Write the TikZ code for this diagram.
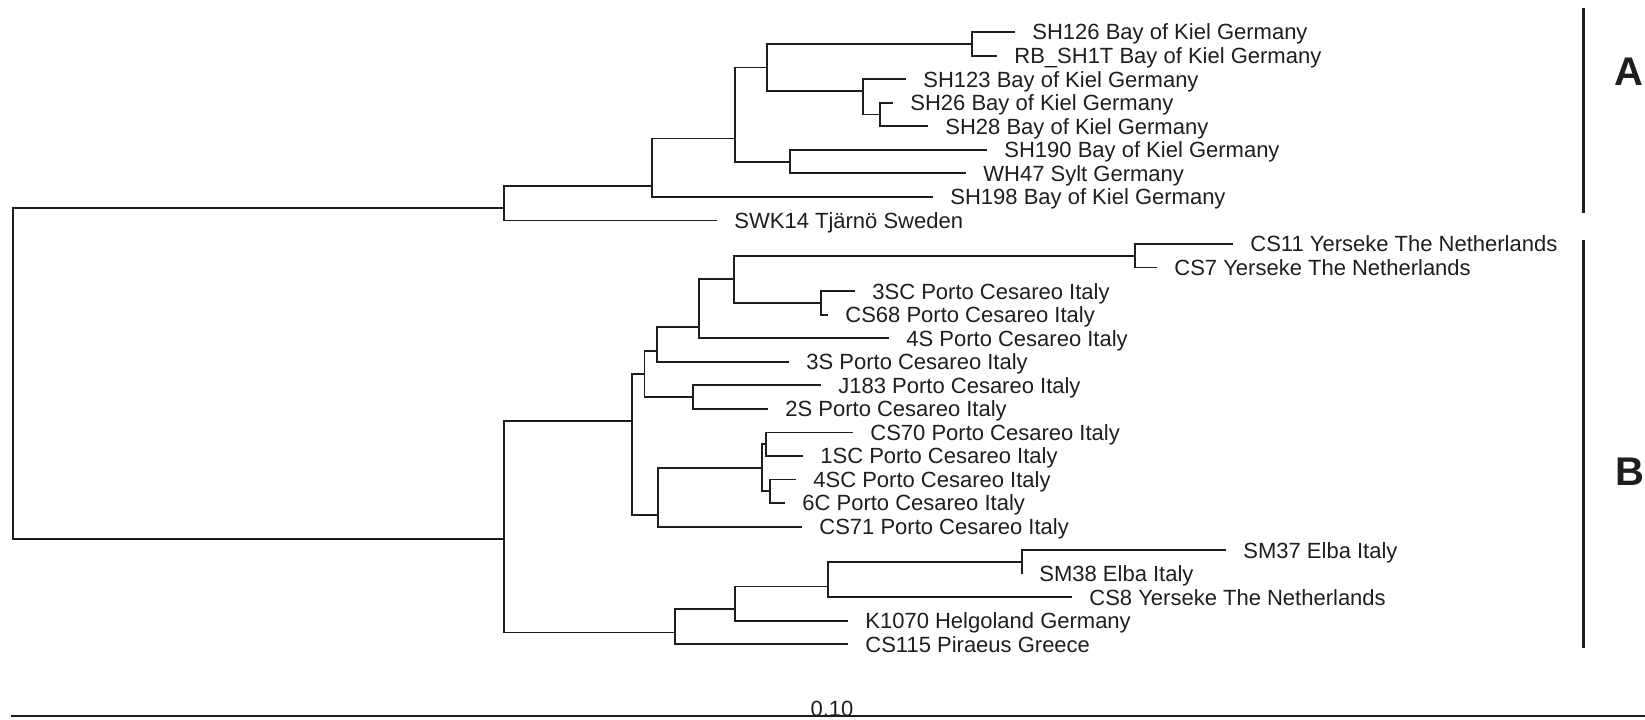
\documentclass[tikz,border=0pt]{standalone}
\usepackage{fontspec}
\setmainfont{Liberation Sans}
\usepackage{tikz}
\definecolor{Ink}{HTML}{1E1E1E}

\begin{document}
\begin{tikzpicture}[x=0.5pt,y=-0.5pt,
  every node/.style={font=\fontsize{11}{13}\selectfont,text=Ink},
  leaf/.style={anchor=west,inner xsep=8.5pt,inner ysep=0pt,text height=7.9pt,text depth=0pt},
  branch/.style={draw=Ink,line width=0.9pt},
  clade/.style={draw=Ink,line width=1.3pt},
  cladelabel/.style={font=\fontsize{20}{24}\selectfont\bfseries}
]
\useasboundingbox (0,0) rectangle (1645,719);
\node[leaf] (sh126) at (1015,32) {SH126 Bay of Kiel Germany};
\node[leaf] (rbsh) at (997,55.6) {RB\_SH1T Bay of Kiel Germany};
\node[leaf] (sh123) at (906,79.1) {SH123 Bay of Kiel Germany};
\node[leaf] (sh26) at (893,102.7) {SH26 Bay of Kiel Germany};
\node[leaf] (sh28) at (928,126.2) {SH28 Bay of Kiel Germany};
\node[leaf] (sh190) at (987,149.8) {SH190 Bay of Kiel Germany};
\node[leaf] (wh47) at (966,173.3) {WH47 Sylt Germany};
\node[leaf] (sh198) at (933,196.9) {SH198 Bay of Kiel Germany};
\node[leaf] (swk14) at (717,220.4) {SWK14 Tjärnö Sweden};
\node[leaf] (cs11) at (1233,244) {CS11 Yerseke The Netherlands};
\node[leaf] (cs7) at (1157,267.5) {CS7 Yerseke The Netherlands};
\node[leaf] (sc3) at (855,291.1) {3SC Porto Cesareo Italy};
\node[leaf] (cs68) at (828,314.6) {CS68 Porto Cesareo Italy};
\node[leaf] (s4) at (889,338.2) {4S Porto Cesareo Italy};
\node[leaf] (s3) at (789,361.7) {3S Porto Cesareo Italy};
\node[leaf] (j183) at (821,385.3) {J183 Porto Cesareo Italy};
\node[leaf] (s2) at (768,408.8) {2S Porto Cesareo Italy};
\node[leaf] (cs70) at (853,432.4) {CS70 Porto Cesareo Italy};
\node[leaf] (sc1) at (803,455.9) {1SC Porto Cesareo Italy};
\node[leaf] (sc4) at (796,479.5) {4SC Porto Cesareo Italy};
\node[leaf] (c6) at (785,503) {6C Porto Cesareo Italy};
\node[leaf] (cs71) at (802,526.6) {CS71 Porto Cesareo Italy};
\node[leaf] (sm37) at (1226,550.1) {SM37 Elba Italy};
\node[leaf] (sm38) at (1022,573.7) {SM38 Elba Italy};
\node[leaf] (cs8) at (1072,597.2) {CS8 Yerseke The Netherlands};
\node[leaf] (k1070) at (848,620.8) {K1070 Helgoland Germany};
\node[leaf] (cs115) at (848,644.3) {CS115 Piraeus Greece};
\coordinate (root) at (13,373);
\coordinate (top) at (504,208);
\coordinate (kA) at (652,186);
\coordinate (kA1) at (735,138.5);
\coordinate (kA1a) at (767,67.5);
\coordinate (kShRb) at (972,43.8);
\coordinate (kSh123) at (863,91);
\coordinate (kSh26) at (880,114.5);
\coordinate (kSylt) at (790,161.7);
\coordinate (kB) at (504,539);
\coordinate (kB1) at (632,420.7);
\coordinate (kB1a) at (644.5,374);
\coordinate (kB1b) at (657,350.7);
\coordinate (kB1c) at (699,326.7);
\coordinate (kYer3sc) at (734,279.3);
\coordinate (kYer) at (1135,255.8);
\coordinate (kSc3) at (821,302.9);
\coordinate (kJ183) at (693,397);
\coordinate (kCs71) at (658,515.3);
\coordinate (kCs70x) at (762,468.3);
\coordinate (kCs70) at (766,444.2);
\coordinate (kSc4) at (770,491.3);
\coordinate (kB2) at (675,632.5);
\coordinate (kB2a) at (735,609);
\coordinate (kB2b) at (828,586.5);
\coordinate (kElba) at (1022,562);
\draw[branch] (root) |- (top); \draw[branch] (root) |- (kB);
\draw[branch] (top) |- (kA); \draw[branch] (top) |- (swk14);
\draw[branch] (kA) |- (kA1); \draw[branch] (kA) |- (sh198);
\draw[branch] (kA1) |- (kA1a); \draw[branch] (kA1) |- (kSylt);
\draw[branch] (kA1a) |- (kShRb); \draw[branch] (kA1a) |- (kSh123);
\draw[branch] (kShRb) |- (sh126); \draw[branch] (kShRb) |- (rbsh);
\draw[branch] (kSh123) |- (sh123); \draw[branch] (kSh123) |- (kSh26);
\draw[branch] (kSh26) |- (sh26); \draw[branch] (kSh26) |- (sh28);
\draw[branch] (kSylt) |- (sh190); \draw[branch] (kSylt) |- (wh47);
\draw[branch] (kB) |- (kB1); \draw[branch] (kB) |- (kB2);
\draw[branch] (kB1) |- (kB1a); \draw[branch] (kB1) |- (kCs71);
\draw[branch] (kB1a) |- (kB1b); \draw[branch] (kB1a) |- (kJ183);
\draw[branch] (kB1b) |- (kB1c); \draw[branch] (kB1b) |- (s3);
\draw[branch] (kB1c) |- (kYer3sc); \draw[branch] (kB1c) |- (s4);
\draw[branch] (kYer3sc) |- (kYer); \draw[branch] (kYer3sc) |- (kSc3);
\draw[branch] (kYer) |- (cs11); \draw[branch] (kYer) |- (cs7);
\draw[branch] (kSc3) |- (sc3); \draw[branch] (kSc3) |- (cs68);
\draw[branch] (kJ183) |- (j183); \draw[branch] (kJ183) |- (s2);
\draw[branch] (kCs71) |- (kCs70x); \draw[branch] (kCs71) |- (cs71);
\draw[branch] (kCs70x) |- (kCs70); \draw[branch] (kCs70x) |- (kSc4);
\draw[branch] (kCs70) |- (cs70); \draw[branch] (kCs70) |- (sc1);
\draw[branch] (kSc4) |- (sc4); \draw[branch] (kSc4) |- (c6);
\draw[branch] (kB2) |- (kB2a); \draw[branch] (kB2) |- (cs115);
\draw[branch] (kB2a) |- (kB2b); \draw[branch] (kB2a) |- (k1070);
\draw[branch] (kB2b) |- (kElba); \draw[branch] (kB2b) |- (cs8);
\draw[branch] (kElba) |- (sm37); \draw[branch] (kElba) |- (sm38);
\coordinate (barAtop) at (1583.5,8); \coordinate (barAbot) at (1583.5,213);
\coordinate (barBtop) at (1583.5,240); \coordinate (barBbot) at (1583.5,648);
\draw[clade] (barAtop) -- (barAbot); \draw[clade] (barBtop) -- (barBbot);
\node[cladelabel] (labA) at (1629,72) {A};
\node[cladelabel] (labB) at (1630,472) {B};
\coordinate (sbL) at (10.5,716); \coordinate (sbR) at (1645,716);
\draw[branch,line width=1pt] (sbL) -- (sbR);
\node[anchor=base,inner sep=0pt] (sbtext) at (832,716.5) {0.10};
\end{tikzpicture}
\end{document}
